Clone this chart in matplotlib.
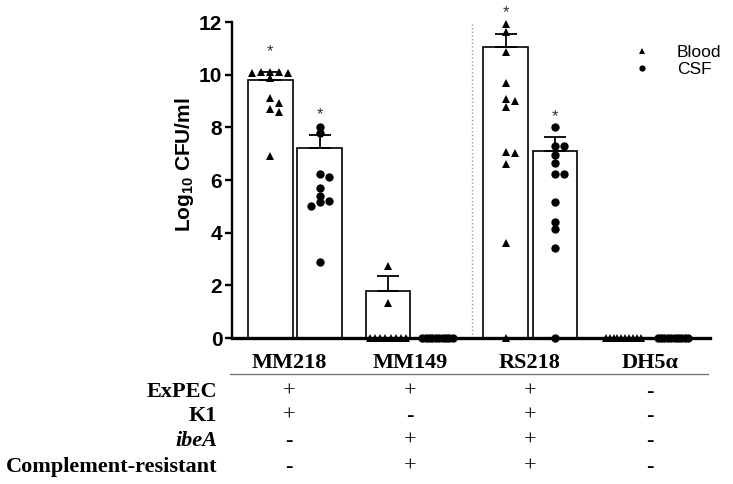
import numpy as np
import matplotlib
matplotlib.use("Agg")
import matplotlib.pyplot as plt
from matplotlib.lines import Line2D

plt.rcParams['font.family'] = ['Liberation Sans', 'DejaVu Sans']
plt.rcParams['mathtext.fontset'] = 'custom'
plt.rcParams['mathtext.rm'] = 'Liberation Sans:bold'
plt.rcParams['mathtext.default'] = 'rm'

# ---------------- data ----------------
groups = ["MM218", "MM149", "RS218", "DH5\u03b1"]
blood_mean = [9.78, 1.79, 11.04, 0.0]
blood_sem = [0.32, 0.58, 0.52, 0.0]
csf_mean = [7.21, 0.0, 7.12, 0.0]
csf_sem = [0.48, 0.0, 0.51, 0.0]

blood_mm218 = [10.1, 10.08, 10.1, 10.08, 10.1, 9.87, 9.1, 8.92, 8.7, 8.6, 6.9]
csf_mm218 = [8.0, 7.78, 6.24, 6.11, 5.71, 5.41, 5.22, 5.16, 5.03, 2.9]
blood_mm149 = [2.75, 1.32, 0, 0, 0, 0, 0, 0, 0, 0]
csf_mm149 = [0, 0, 0, 0, 0, 0, 0, 0, 0, 0]
blood_rs218 = [11.93, 11.62, 10.85, 9.68, 9.07, 9.0, 8.78, 7.08, 7.02, 6.6, 3.62, 0]
csf_rs218 = [8.0, 7.3, 7.3, 6.96, 6.64, 6.24, 6.24, 5.17, 4.42, 4.13, 3.41, 0]
blood_dh5a = [0, 0, 0, 0, 0, 0, 0, 0, 0, 0]
csf_dh5a = [0, 0, 0, 0, 0, 0, 0, 0, 0, 0]

blood_points = [blood_mm218, blood_mm149, blood_rs218, blood_dh5a]
csf_points = [csf_mm218, csf_mm149, csf_rs218, csf_dh5a]

blood_sig = [True, False, True, False]
csf_sig = [True, False, True, False]

row_labels = ["ExPEC", "K1", "ibeA", "Complement-resistant"]
row_italic = [False, False, True, False]
table_signs = [
    ["+", "+", "+", "-"],
    ["+", "-", "+", "-"],
    ["-", "+", "+", "-"],
    ["-", "+", "+", "-"],
]

yticks = [0, 2, 4, 6, 8, 10, 12]


# ---------------- helpers ----------------
def swarm_offsets(vals, dx, dy, zero_width):
    vals = np.asarray(vals, dtype=float)
    offs = np.zeros(len(vals))
    zidx = np.where(vals == 0)[0]
    if len(zidx) > 1:
        offs[zidx] = np.linspace(-zero_width / 2, zero_width / 2, len(zidx))
    placed = []
    for i in np.argsort(-vals, kind='stable'):
        if vals[i] == 0:
            continue
        k = 0
        found = None
        while found is None:
            cands = [0.0] if k == 0 else [k * dx, -k * dx]
            for c in cands:
                if all(not (abs(c - px) < dx * 0.999 and abs(vals[i] - py) < dy)
                       for px, py in placed):
                    found = c
                    break
            k += 1
        offs[i] = found
        placed.append((found, vals[i]))
    return offs


# ---------------- figure ----------------
W, H = 733, 484
fig = plt.figure(figsize=(W / 100, H / 100), dpi=100)
ax_l, ax_r, ax_b, ax_t = 232, 710, 338, 22
ax = fig.add_axes([ax_l / W, 1 - ax_b / H, (ax_r - ax_l) / W, (ax_b - ax_t) / H])

x = np.arange(len(groups))
off = 0.21
bw = 0.38
dx = 0.077
dy = 0.2

ax.bar(x - off, blood_mean, width=bw, color='white', edgecolor='black',
       linewidth=1.2, zorder=1)
ax.bar(x + off, csf_mean, width=bw, color='white', edgecolor='black',
       linewidth=1.2, zorder=1)

for i in range(len(groups)):
    for xc, m, s in ((x[i] - off, blood_mean[i], blood_sem[i]),
                     (x[i] + off, csf_mean[i], csf_sem[i])):
        if s > 0:
            ax.errorbar([xc], [m], yerr=[[0], [s]], fmt='none', ecolor='black',
                        elinewidth=1.3, capsize=8, capthick=1.3, zorder=2)

for i in range(len(groups)):
    bo = swarm_offsets(blood_points[i], dx, dy, 0.30)
    co = swarm_offsets(csf_points[i], dx, dy, 0.26)
    ax.plot(x[i] - off + bo, blood_points[i], '^', color='black', ms=6,
            mew=0, clip_on=False, zorder=3)
    ax.plot(x[i] + off + co, csf_points[i], 'o', color='black', ms=6,
            mew=0, clip_on=False, zorder=3)
    if blood_sig[i]:
        ax.text(x[i] - off, blood_mean[i] + blood_sem[i] + 0.62, '*',
                ha='center', va='baseline', fontsize=12, color='#333333',
                clip_on=False)
    if csf_sig[i]:
        ax.text(x[i] + off, csf_mean[i] + csf_sem[i] + 0.62, '*',
                ha='center', va='baseline', fontsize=12, color='#333333',
                clip_on=False)

ax.axvline(1.5, ymin=0, ymax=1, color='#999999', linestyle=':', linewidth=1.0,
           zorder=0)

ax.set_ylim(0, 12)
ax.set_xlim((ax_l - 295) / 117.7, (ax_r - 295) / 117.7)
ax.set_yticks(yticks)
ax.set_yticklabels([str(t) for t in yticks], fontsize=15, fontweight='bold')
ax.set_xticks([])
for sp in ('top', 'right'):
    ax.spines[sp].set_visible(False)
ax.spines['left'].set_linewidth(1.7)
ax.spines['bottom'].set_linewidth(2.4)
ax.spines['bottom'].set_zorder(4)
ax.tick_params(axis='y', width=1.7, length=5, pad=2)

fig.text(185 / W, 1 - 165 / H, "Log$_{10}$ CFU/ml", rotation=90, ha='center',
         va='center', fontsize=15, fontweight='bold')

handles = [Line2D([], [], marker='^', color='black', ls='none', ms=4.5, mew=0),
           Line2D([], [], marker='o', color='black', ls='none', ms=4.5, mew=0)]
fig.legend(handles, ["Blood", "CSF"], loc='upper left',
           bbox_to_anchor=(625 / W, 1 - 45 / H), frameon=False, fontsize=12.5,
           handlelength=2.0, handletextpad=1.0, labelspacing=0.1, borderpad=0,
           borderaxespad=0)

# ---------------- table below ----------------
serif = ['Liberation Serif', 'DejaVu Serif']
col_x = [289, 410, 530, 650]
for cx, g in zip(col_x, groups):
    fig.text(cx / W, 1 - 363 / H, g, ha='center', va='center', fontsize=16,
             fontweight='bold', family=serif)
fig.add_artist(Line2D([230 / W, 708 / W], [1 - 374 / H, 1 - 374 / H],
                      color='#777777', linewidth=1.0))
row_y = [392, 416, 441, 467]
for ry, lab, it, signs in zip(row_y, row_labels, row_italic, table_signs):
    fig.text(217 / W, 1 - ry / H, lab, ha='right', va='center', fontsize=16,
             fontweight='bold', style='italic' if it else 'normal', family=serif)
    for cx, s in zip(col_x, signs):
        if s == '+':
            fig.text(cx / W, 1 - ry / H, '+', ha='center', va='center',
                     fontsize=16, family=serif)
        else:
            fig.text(cx / W, 1 - ry / H, '-', ha='center', va='center',
                     fontsize=16, fontweight='bold', family=serif)

fig.savefig("out.png", dpi=100)
